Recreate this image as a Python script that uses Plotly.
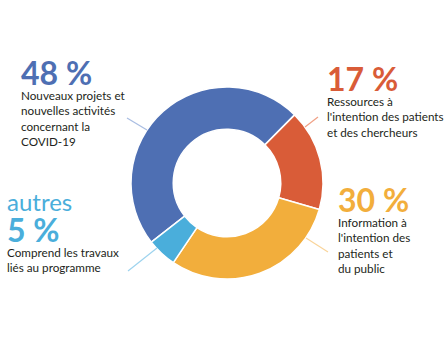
import plotly.graph_objects as go

# Répartition des activités (en %)
categories = ["Nouveaux projets", "Ressources", "Information", "Autres"]
values = [48, 17, 30, 5]
colors = ["#4e6fb3", "#d95c38", "#f2ae3c", "#4aaedb"]
line_colors = ["#a9bde2", "#f0a085", "#f9d49a", "#9dd3ee"]
descriptions = [
    ["Nouveaux projets et", "nouvelles activités", "concernant la", "COVID-19"],
    ["Ressources à", "l'intention des patients", "et des chercheurs"],
    ["Information à", "l'intention des", "patients et", "du public"],
    ["Comprend les travaux", "liés au programme"],
]
prefix = ["", "", "", "autres"]

W, H = 444, 337


def px(x):
    return x / W


def py(y):
    return 1 - y / H


fig = go.Figure(go.Pie(
    labels=categories,
    values=values,
    sort=False,
    direction="clockwise",
    rotation=232,
    hole=0.56,
    marker=dict(colors=colors, line=dict(color="white", width=1.5)),
    textinfo="none",
    hoverinfo="label+percent",
    domain=dict(x=[px(131), px(323)], y=[py(279), py(87)]),
    showlegend=False,
))

# text block anchors: (x, y of block top)
blocks = [
    (19, 51),
    (325, 57),
    (336, 178),
    (5, 208),
]
leaders = [
    ((127, 118), (147, 130)),
    ((305, 127), (318, 117)),
    ((306, 238), (328, 252)),
    ((128, 271), (157, 248)),
]

annotations = []
shapes = []
for i, v in enumerate(values):
    x0, yp = blocks[i]
    if prefix[i]:
        annotations.append(dict(
            x=px(x0), y=py(yp - 23), xref="paper", yref="paper",
            xanchor="left", yanchor="top", showarrow=False,
            text=prefix[i],
            font=dict(family="Lato", size=24, color=colors[i]),
        ))
    head = (f"<span style='font-size:32px;color:{colors[i]}'>"
            f"<b>{v} %</b></span>")
    annotations.append(dict(
        x=px(x0), y=py(yp), xref="paper", yref="paper",
        xanchor="left", yanchor="top", align="left", showarrow=False,
        text="<br>".join([head] + descriptions[i]),
        font=dict(family="Lato", size=11.7, color="#231f20"),
    ))
    (a, b), (c, d) = leaders[i]
    shapes.append(dict(
        type="line", xref="paper", yref="paper",
        x0=px(a), y0=py(b), x1=px(c), y1=py(d),
        line=dict(color=line_colors[i], width=1.2),
    ))

fig.update_layout(
    width=W, height=H,
    margin=dict(l=0, r=0, t=0, b=0),
    paper_bgcolor="white",
    plot_bgcolor="white",
    annotations=annotations,
    shapes=shapes,
)

fig.write_html("out.html")
